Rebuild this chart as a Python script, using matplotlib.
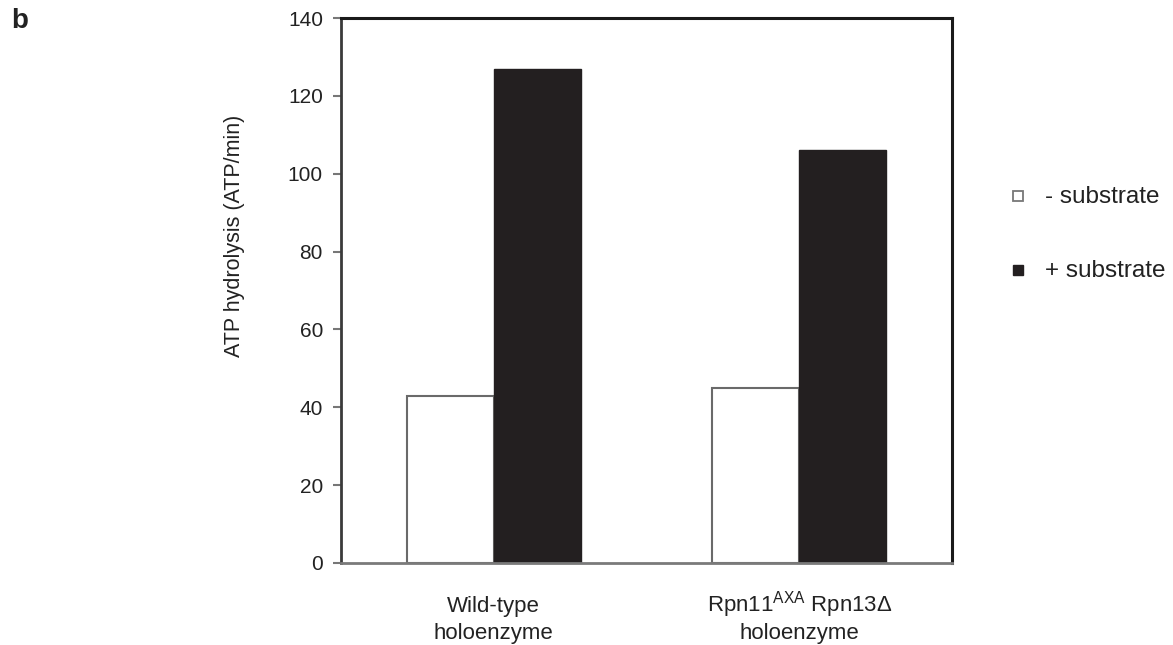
import matplotlib
matplotlib.use("Agg")
import matplotlib.pyplot as plt
import numpy as np
from matplotlib.lines import Line2D

plt.rcParams['font.family'] = ['Liberation Sans', 'DejaVu Sans']
plt.rcParams['mathtext.fontset'] = 'custom'
plt.rcParams['mathtext.rm'] = 'Liberation Sans'
plt.rcParams['mathtext.it'] = 'Liberation Sans'

categories = ["Wild-type\nholoenzyme", "Rpn11$^{\\mathrm{AXA}}$ Rpn13\u0394\nholoenzyme"]
minus_substrate = [43, 45]
plus_substrate = [127, 106]
series_labels = ["- substrate", "+ substrate"]
yticks = [0, 20, 40, 60, 80, 100, 120, 140]

fig = plt.figure(figsize=(11.73, 6.45), dpi=100)
ax = fig.add_axes([341/1173, 82/645, 611/1173, 545/645])

x = np.arange(len(categories))
w = 0.285
ax.bar(x - w/2, minus_substrate, w, color='white', edgecolor='#6a6a6a', linewidth=1.5, zorder=2)
ax.bar(x + w/2, plus_substrate, w, color='#231f20', edgecolor='#231f20', linewidth=1, zorder=2)

ax.set_xlim(-0.5, 1.5)
ax.set_ylim(0, 140)
ax.set_yticks(yticks)
ax.set_xticks(x)
ax.set_xticklabels([""] * len(categories))
ax.tick_params(axis='x', length=0)
ax.tick_params(axis='y', length=6, width=1.5, color='#777777', labelsize=15, labelcolor='#222222', pad=7)

# category labels, each line on its own baseline so both groups align
tr = ax.get_xaxis_transform()
line_y = [-0.0899, -0.1394]
for xi, cat in zip(x, categories):
    for ly, line in zip(line_y, cat.split("\n")):
        ax.text(xi, ly, line, transform=tr, ha='center', va='baseline', fontsize=16,
                color='#222222', clip_on=False)

for s in ['top', 'right']:
    ax.spines[s].set_color('#1a1a1a')
    ax.spines[s].set_linewidth(2.2)
ax.spines['left'].set_color('#3a3a3a')
ax.spines['left'].set_linewidth(2)
ax.spines['bottom'].set_color('#7a7a7a')
ax.spines['bottom'].set_linewidth(2)

ax.set_ylabel("ATP hydrolysis (ATP/min)", fontsize=15.5, color='#222222')
ax.yaxis.set_label_coords(-0.157, 0.60)

# legend drawn in figure coordinates
leg_y = [196, 270]
styles = [dict(markerfacecolor='white', markeredgecolor='#777777', markeredgewidth=1.3),
          dict(markerfacecolor='#231f20', markeredgecolor='#231f20', markeredgewidth=1.0)]
for lab, yy, st in zip(series_labels, leg_y, styles):
    fig.add_artist(Line2D([1018/1173], [1 - yy/645], transform=fig.transFigure, linestyle='none',
                          marker='s', markersize=6.5, **st))
    fig.text(1045/1173, 1 - (yy + 1)/645, lab, fontsize=17.5, color='#222222', va='center', ha='left')

fig.text(11/1173, 1 - 21/645, "b", fontsize=20, fontweight='bold', va='center', ha='left', color='#222222')

fig.savefig("out.png", dpi=100)
